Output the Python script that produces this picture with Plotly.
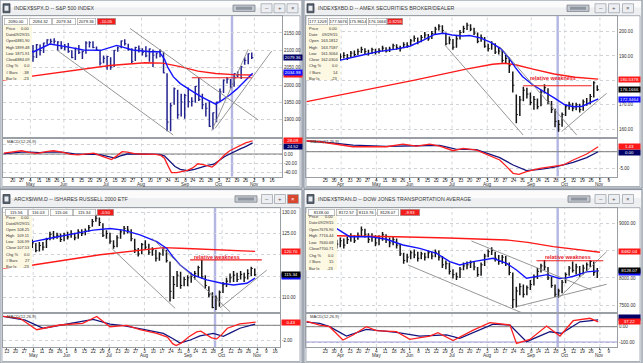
import plotly.graph_objects as go

W, H = 643, 363
FONT = "Liberation Sans, Arial, sans-serif"

# ============================ DATA ============================
# Date ticks, x = trading-day index.  Left windows: 0 = Mon 13 Apr 2015
left_tick_pos = [0,5,10,15,20,25,30,34,39,44,49,54,58,63,68,73,78,83,88,93,98,103,107,112,117,122,127,132,137,142,147,152]
left_tick_day = ["13","20","27","4","11","18","26","1","8","15","22","29","6","13","20","27","3","10","17","24","31","8","14","21","28","5","12","19","26","2","9","16"]
left_tick_mon = ["","","","May","","","","Jun","","","","","Jul","","","","Aug","","","","","Sep","","","","Oct","","","","Nov","",""]
# Right windows: 0 = Mon 23 Mar 2015
right_tick_pos = [0,5,9,14,19,24,29,34,39,44,48,53,58,63,68,72,77,82,87,92,97,102,107,112,117,121,126,131,136,141,146,151,156,161]
right_tick_day = ["23","30","6","13","20","27","4","11","18","26","1","8","15","22","29","6","13","20","27","3","10","17","24","31","8","14","21","28","5","12","19","26","2","9"]
right_tick_mon = ["","","Apr","","","","May","","","","Jun","","","","","Jul","","","","Aug","","","","","Sep","","","","Oct","","","","Nov",""]

# ---- S&P 500 ($SPX) : two-trading-day bars starting at index 0 ----
spx_start = 0
spx_hi = [2107,2111,2103,2109,2120,2126,2114,2120,2115,2118,2117,2122,2132,2133,2135,2126,2126,2118,2121,2100,2107,2115,2098,2126,2126,2126,2111,2100,2085,2084,2080,2101,2111,2128,2132,2119,2106,2110,2114,2106,2112,2105,2102,2093,2103,2096,2034,1949,1993,1986,1975,1975,1993,1965,1997,2021,1975,1949,1953,1921,1952,1990,2016,2022,2017,2033,2039,2055,2080,2091,2094]
spx_lo = [2085,2092,2073,2090,2103,2098,2083,2086,2067,2078,2085,2092,2117,2119,2119,2099,2103,2100,2093,2077,2072,2089,2075,2090,2108,2106,2098,2056,2063,2044,2044,2052,2096,2106,2114,2099,2063,2069,2094,2085,2080,2067,2052,2076,2080,2034,1867,1867,1943,1903,1909,1903,1935,1938,1949,1954,1930,1909,1879,1872,1893,1951,1977,2004,1990,1995,2022,2017,2058,2060,2075]
spx_cl = [2095,2105,2100,2107,2117,2114,2086,2115,2081,2116,2099,2121,2130,2126,2126,2124,2107,2110,2096,2079,2106,2094,2096,2121,2122,2108,2101,2063,2077,2082,2052,2100,2107,2127,2119,2102,2068,2108,2104,2094,2084,2104,2086,2092,2097,2035,1893,1940,1989,1914,1951,1970,1952,1953,1996,1958,1943,1933,1881,1920,1951,1980,2014,2017,1994,2033,2030,2052,2071,2090,2079]
spx_ma_x = [0,10,17,26,36,45,55,64,73,83,88,91,93,96,100,104,108,112,116,120,124,128,132,136,141]
spx_ma = [2092,2100,2096,2118,2110,2101,2100,2114,2101,2096,2096,2075,2050,2024,2004,1990,1978,1966,1955,1945,1957,1971,1988,2008,2034]
spx_ma2_x = [-0.5,20,40,60,80,90,100,110,120,130,141]
spx_ma2 = [2014,2028,2042,2056,2064,2063,2053,2040,2033,2030,2029]
spx_macd_x = [0,5,10,15,19,24,28,33,38,42,47,51,55,58,61,64,67,70,74,78,82,86,89,91,93,95,98,101,104,107,110,113,116,118,120,122,125,128,131,134,137,139,141]
spx_macd = [2,4,7,3,1.5,5,7,4,-1,-2,1,2,-4,-8,-12,-4,5,4,1,0,0,-1,-3,-9,-25,-40,-40,-37,-35,-30,-21,-23,-27,-28,-22,-14,-2,7,13,19,24,26,28.5]
spx_sig_x = [0,5,10,15,20,25,30,35,40,45,50,55,60,63,66,70,75,80,85,88,91,94,97,100,104,108,112,116,119,122,125,128,131,134,137,141]
spx_sig = [1,3,4,4,3,4,4.5,3,0,-1,0,-2,-7,-9,-4,0,0,0,0,-1,-4,-15,-27,-33,-36,-33,-28,-24,-22,-13,-6,0,6,11,16,24]
spx_trend = [[29.9,2101,96,1856],[71.5,2163,144.2,1899],[117.8,1868,138.5,2103],[119.7,1875,151.8,2098]]
spx_resist = [106.5,140.5,2021]
spx_cursor = 129.3
spx_header = ["2090.00","2094.32","2079.34","2079.36","-10.05"]
spx_info = [("Price","0.00"),("Date","09/29/15"),("Open","1881.90"),("High","1899.48"),("Low","1871.91"),("Close","1884.09"),("Chg %","0.0"),("# Bars","-38"),("Bar Ix","-23")]
spx_last = [("p",2030.5,"","#ff1a1a"),("p",2079.36,"2079.36","#000066"),("p",2034.98,"2034.98","#1010ff"),("m",15.5,"24.52","#000066"),("m",28.09,"28.09","#ff1a1a")]
spx_pticks = [1900,1950,2000,2050,2100,2150,2200]
spx_mticks = [20,0,-20,-40]
spx_hidden = [20]

# ---- AMEX Securities Broker/Dealer ($XBD) : two-day bars from index -10 ----
xbd_start = -10
xbd_hi = [188.2,189.0,188.8,189.5,190.2,189.6,190.3,190.6,189.8,191.0,191.5,190.8,192.0,192.2,193.0,193.8,193.2,192.6,193.4,193.0,193.2,194.2,193.6,193.8,195.0,194.8,194.2,195.6,195.6,197.0,198.4,197.6,198.6,199.8,199.0,200.2,202.0,203.0,202.6,199.6,198.0,197.0,198.2,200.6,202.4,203.6,203.0,201.6,199.6,198.8,197.8,195.0,196.0,195.2,193.6,192.4,190.4,189.4,183.6,174.2,173.6,177.4,177.0,175.0,173.6,172.6,176.2,178.4,176.8,171.6,168.4,163.8,166.8,170.2,171.2,170.8,170.8,170.4,172.2,172.8,174.4,179.6,178.0]
xbd_lo = [185.8,186.5,186.4,187.2,187.9,187.2,187.8,188.0,187.5,188.2,189.0,188.4,189.2,189.8,190.4,191.2,190.8,190.2,190.8,190.6,191.0,191.8,191.4,191.6,192.6,192.6,191.8,193.2,193.4,194.2,195.8,194.8,195.6,197.2,196.2,197.0,199.0,200.4,199.4,194.4,194.8,192.6,193.4,196.8,199.4,200.6,200.2,198.6,195.2,195.8,193.4,191.8,192.6,190.8,190.6,187.2,186.8,183.0,175.0,162.4,165.4,171.4,172.6,169.8,168.0,168.2,169.4,174.6,170.2,166.6,160.8,159.0,161.0,165.4,168.0,167.4,167.8,166.8,167.6,169.6,170.2,173.0,175.6]
xbd_cl = [187.0,188.0,187.5,188.6,189.0,188.0,189.5,189.0,188.3,189.6,190.2,189.2,191.2,190.6,191.8,192.6,191.8,191.0,192.6,191.6,192.2,193.2,192.0,192.8,194.2,193.4,193.0,194.6,194.2,196.2,197.2,195.6,197.6,198.6,197.0,199.2,201.0,202.2,200.4,195.0,196.6,193.6,197.0,199.6,201.2,202.6,201.0,199.4,196.0,197.6,194.0,193.0,195.0,191.6,192.0,188.2,189.0,186.0,178.0,166.0,172.0,176.0,174.4,171.0,172.2,169.2,175.2,177.0,171.2,168.0,163.2,162.0,166.0,169.2,170.2,168.6,170.0,168.0,171.2,170.6,173.4,179.0,176.2]
xbd_ma_x = [-10.6,8,20,30,40,48,56,62,67,72,78,82,88,94,100,104,108,112,118,124,130,136,141,146,150,155]
xbd_ma = [187,188.2,190.2,191.8,192.8,194,196.6,198.8,199.3,198.6,198.2,198.4,197.4,195.6,192.8,189.5,185.2,181.6,178.1,175.6,172.8,170,169.2,169.4,170.6,172.4]
xbd_ma2_x = [-10.6,20,50,80,95,102,108,118,130,142,155]
xbd_ma2 = [171.3,175.6,180,184.6,186.6,187,186.4,184.6,182.6,181.3,180.5]
xbd_macd_x = [-10.6,-3.2,15.7,34.7,44.1,51.8,59.3,65,72.6,78.3,85.9,91.6,99.1,103,106.7,110,114.3,121.9,129.5,135.2,140.8,148.5,155]
xbd_macd = [3.3,3.0,1.5,1.5,2.3,1.7,2.3,1.7,0.3,1.0,0.5,-0.7,-2.5,-4.5,-6.5,-6.8,-6,-5,-4.3,-4,-2.5,-0.7,1.5]
xbd_sig_x = [-10.6,-3.2,15.7,34.7,51.8,65,74,85.9,91.6,99.1,106.7,114.3,121.9,129.5,135.2,140.8,148.5,155]
xbd_sig = [3.2,3.0,2.0,1.6,1.8,1.9,0.8,0.6,-0.4,-1.8,-4.0,-5.7,-5.3,-4.7,-4.0,-3.2,-1.8,0.0]
xbd_trend = [[67.9,194.5,112.4,157.6],[99.1,193.8,142.8,157.6],[134.2,159,159.8,174.7]]
xbd_resist = [112.4,151.2,177.8]
xbd_cursor = 132
xbd_header = ["177.1209","177.5676","175.9614","176.1666","-0.8255"]
xbd_info = [("Price","0.00"),("Date","09/29/15"),("Open","163.1812"),("High","163.7587"),("Low","161.3064"),("Close","162.0304"),("Chg %","0.0"),("# Bars","14"),("Bar Ix","-23")]
xbd_last = [("p",180.54,"180.5378","#ff1a1a"),("p",176.17,"176.1666","#000000"),("p",172.35,"172.3464","#1010ff"),("m",-0.3,"0.00","#000066"),("m",1.45,"1.43","#ff1a1a")]
xbd_pticks = [160,170,180,190,200]
xbd_mticks = [0,-5]
xbd_hidden = [180,0]

# ---- iShares Russell 2000 ETF (IWM) : two-day bars from index -2 ----
iwm_start = -2
iwm_hi = [125.4,125.8,125.8,125.2,125.6,126.0,125.8,124.4,123.6,122.8,123.0,123.0,124.0,125.4,125.6,125.2,125.0,125.2,125.4,125.8,125.2,126.0,126.0,126.2,127.0,128.4,129.4,128.8,127.4,125.8,125.2,123.4,124.6,126.0,126.8,126.8,126.0,123.8,121.6,122.8,123.4,122.6,121.8,121.2,120.6,121.8,121.2,118.4,115.0,116.2,116.0,114.8,115.2,115.8,116.2,117.4,118.8,115.2,112.6,111.2,110.4,111.6,113.6,114.6,115.6,116.2,115.8,116.2,115.8,116.6,117.2,116.8]
iwm_lo = [123.6,124.2,124.0,123.2,123.6,124.4,123.6,121.8,121.6,120.6,120.8,121.0,121.6,123.4,123.6,123.8,123.0,123.2,123.6,124.0,123.4,123.8,124.4,124.6,125.4,126.6,127.8,126.8,124.2,123.8,122.6,121.4,121.8,123.8,124.8,125.0,123.2,120.4,119.6,120.2,121.2,120.0,119.8,118.4,118.6,119.8,118.2,109.0,109.6,112.4,112.0,112.6,112.6,113.4,114.2,114.8,114.4,112.0,110.0,107.4,107.0,107.8,111.0,112.4,113.4,113.6,113.6,114.2,113.6,114.2,115.0,115.0]
iwm_cl = [124.6,125.2,124.8,123.8,124.8,125.4,124.2,122.2,122.8,121.0,122.2,121.8,123.6,124.8,124.2,124.6,123.6,124.6,124.2,125.0,124.0,125.4,125.0,125.6,126.4,127.8,128.6,127.6,124.6,125.0,123.2,122.0,124.0,125.4,126.2,125.8,123.8,121.2,120.2,122.4,121.8,120.6,121.2,119.2,120.2,121.4,118.6,111.4,113.0,115.2,112.8,114.2,114.6,115.0,115.6,117.0,114.8,112.8,110.6,107.6,109.8,111.2,113.0,113.8,114.6,115.2,114.2,115.4,114.6,115.6,116.8,115.3]
iwm_ma_x = [-2,8,15,24.5,34,49,58.5,66,75.5,85,90.7,94,98.2,105.7,113.3,121.8,128.4,136,140.7]
iwm_ma = [123.8,123.4,123.1,123.9,124.7,125.8,126.2,125.8,124.7,123.1,121.5,119.6,117.6,115.2,114.1,113.3,112.9,113.3,114.5]
iwm_ma2_x = [-2,15,52.9,75.5,88.7,102,124.6,140.7]
iwm_ma2 = [116.9,117.6,120,121.1,121.7,121.5,121.1,120.8]
iwm_macd_x = [-2,7.5,17,30,43,51,58.5,68,75.5,85,91,94,96,99,103,107.6,110,113,116,119,122,125,128,132,136,141]
iwm_macd = [1.2,0.95,-0.6,0.04,0.27,1.2,-0.2,0,-0.6,-1.1,-1.6,-2.5,-2.75,-2.4,-1.6,-0.9,-0.8,-1.3,-1.7,-1.85,-1.2,-0.4,-0.1,0.2,0.3,0.43]
iwm_sig_x = [-2,10.5,20.7,34,49,58.5,66,77.4,88.7,94,98.2,104,109.5,117,122.7,127,132.1,140.7]
iwm_sig = [1.2,0.7,-0.4,0.17,0.8,0.17,-0.05,-0.55,-1.1,-1.8,-2.4,-2.0,-1.45,-1.1,-1.5,-1.0,-0.4,0.17]
iwm_trend = [[59.5,121.5,95.4,107.4],[82.2,123.9,126.5,106.6],[120.8,107.5,147.3,116.4]]
iwm_resist = [103.9,144.5,118.8]
iwm_cursor = 118
iwm_header = ["115.56","116.03","115.06","115.34","-0.50"]
iwm_info = [("Price","0.00"),("Date","09/29/15"),("Open","108.25"),("High","109.11"),("Low","106.99"),("Close","107.53"),("Chg %","0.0"),("# Bars","27"),("Bar Ix","-23")]
iwm_last = [("p",120.70,"120.70","#ff1a1a"),("p",114.9,"","#1010ff"),("p",115.34,"115.34","#000000"),("m",0.43,"0.43","#ff1a1a")]
iwm_pticks = [110,115,120,125,130]
iwm_mticks = [0,-2]
iwm_hidden = [115,120,0]

# ---- Dow Jones Transportation Average ($TRAN) : two-day bars from index -10 ----
tran_start = -10
tran_hi = [8920,8880,8940,8900,8860,8790,8800,8760,8700,8740,8720,8760,8820,8780,8830,8940,8900,8820,8820,8780,8780,8840,8800,8740,8760,8720,8620,8460,8440,8500,8520,8480,8480,8460,8500,8480,8520,8500,8400,8320,8280,8160,8100,8200,8280,8300,8320,8300,8200,8280,8440,8520,8560,8480,8420,8420,8400,8280,8100,7840,7900,7880,7860,7960,8060,8180,8260,8330,8200,8020,7880,7800,7960,8100,8220,8300,8260,8220,8240,8280,8330,8300,8180]
tran_lo = [8780,8740,8800,8760,8700,8650,8660,8620,8540,8560,8540,8620,8660,8640,8700,8760,8740,8640,8660,8580,8600,8680,8640,8560,8600,8540,8400,8260,8280,8340,8360,8300,8340,8320,8360,8340,8380,8320,8180,8160,8060,7990,7960,8000,8140,8160,8180,8140,8020,8040,8220,8380,8420,8300,8240,8260,8220,8050,7450,7460,7680,7640,7680,7780,7860,7980,8100,8140,7960,7820,7650,7640,7720,7900,8040,8100,8060,8020,8060,8120,8200,8040,8000]
tran_cl = [8850,8800,8880,8820,8760,8700,8740,8660,8620,8680,8600,8700,8760,8680,8780,8880,8800,8700,8760,8640,8720,8790,8700,8640,8700,8600,8440,8320,8380,8460,8420,8360,8440,8380,8460,8400,8470,8380,8240,8260,8120,8060,8020,8160,8220,8240,8280,8200,8060,8240,8400,8480,8500,8360,8300,8380,8260,8100,7600,7760,7840,7700,7820,7880,8020,8120,8220,8200,8000,7860,7700,7760,7920,8060,8180,8140,8200,8080,8180,8240,8300,8100,8128]
tran_ma_x = [-10.6,6.3,13.8,25.2,34.7,44.1,53.6,63.1,70.7,76.4,84,95.3,103,108.6,114.3,121.9,126,130,133,137,141,148.5,155]
tran_ma = [8950,8908,8755,8755,8707,8603,8542,8451,8297,8236,8297,8359,8267,8145,7993,8040,8060,8020,7990,8000,8030,8110,8128]
tran_ma2_x = [-10.6,20,40.4,70,103,115,129.5,156]
tran_ma2 = [8780,8770,8755,8730,8694,8650,8572,8470]
tran_macd_x = [-10.6,-3.2,2.4,10,15.7,23.3,29,40.4,48,59.3,64,72.6,84,93.5,104.9,108.6,116.2,125.7,133.3,140.8,150.3,155]
tran_macd = [35,11,0,-87,-54,0,-26,-32,-83,-61,-39,-91,-22,26,11,-109,-83,4,-61,39,55,32]
tran_sig_x = [-10.6,-3.2,2.4,12,23.3,40.4,53.6,68.8,76.4,87.8,95.3,104.9,114.3,127.6,134.2,144.7,155]
tran_sig = [30,22,0,-61,-17,-37,-61,-54,-76,-22,17,11,-98,-33,-43,32,45]
tran_trend = [[47,8236,111.5,7363],[83,8676,151.3,7778],[108.6,7473,159.8,7883],[133.3,7656,159.8,8480]]
tran_resist = [120,157.9,8315]
tran_cursor = 132
tran_header = ["8138.00","8172.57","8113.76","8128.07","-9.93"]
tran_info = [("Price","0.00"),("Date","09/29/15"),("Open","7676.90"),("High","7716.44"),("Low","7640.68"),("Close","7700.71"),("Chg %","0.0"),("# Bars","15"),("Bar Ix","-23")]
tran_last = [("p",8482.04,"8482.04","#ff1a1a"),("p",8100,"","#1010ff"),("p",8128.07,"8128.07","#000000"),("m",60,"","#000066"),("m",37.22,"37.22","#ff1a1a")]
tran_pticks = [7500,8000,8500,9000]
tran_mticks = [0,-100]
tran_hidden = [8500]
tran_macd_floor = -100

# ============================ FIGURE ============================
fig = go.Figure()
shapes, annos, axes = [], [], {}


def PX(x):
    return x / W


def PY(y):
    return 1 - y / H


def rect(x0, y0, x1, y1, fill, line=None, lw=1, layer="below"):
    shapes.append(dict(type="rect", xref="paper", yref="paper",
                       x0=PX(x0), x1=PX(x1), y0=PY(y1), y1=PY(y0),
                       fillcolor=fill, layer=layer,
                       line=dict(color=line if line else fill, width=lw if line else 0)))


def txt(x, y, s, size=4.6, color="#2b2b2b", anchor="left", bold=False, **kw):
    if bold:
        s = "<b>" + s + "</b>"
    a = dict(xref="paper", yref="paper", x=PX(x), y=PY(y), text=s, showarrow=False,
             xanchor=anchor, yanchor="middle",
             font=dict(size=size, color=color, family=FONT))
    a.update(kw)
    annos.append(a)


def window(wx0, wy0, wx1, wy1, tb1, cy0, cx0, cx1, title, tool_x, btn_x, close_red):
    rect(wx0, wy0, wx1, wy1, "#e6e9ee", "#8e959f")
    rect(wx0 + 1, wy0 + 1, wx1 - 1, (wy0 + tb1) / 2, "#fbfbfb")
    rect(wx0 + 1, (wy0 + tb1) / 2, wx1 - 1, tb1, "#eeeff1")
    rect(cx0, cy0, cx1, wy1 - 1.5, "#ffffff", "#aab0b8", 1)
    ty = (wy0 + tb1) / 2 + 0.5
    rect(wx0 + 3, ty - 4.5, wx0 + 10, ty + 4.5, "#56606c", "#3b434d", 0.8)
    rect(wx0 + 4.5, ty - 2.5, wx0 + 8.5, ty + 2.5, "#e8ecf0")
    txt(wx0 + 12, ty, title, size=5.3, color="#3c3c3c")
    rect(tool_x, ty - 3.2, tool_x + 22, ty + 3.2, "#c3c8cf", "#7d848d", 0.8)
    rect(tool_x + 3, ty - 1.5, tool_x + 19, ty + 1.5, "#8e959e")
    syms = ["\u2013", "+", "\u00d7"]
    for i, bx in enumerate(btn_x):
        fill = "#d9472f" if (close_red and i == 2) else "#eceef1"
        rect(bx, ty - 4.5, bx + 11, ty + 4.5, fill, "#a1a7af", 0.8)
        txt(bx + 5.5, ty, syms[i], size=6, color="#ffffff" if (close_red and i == 2) else "#555",
            anchor="center")


def ref(i):
    return "" if i == 1 else str(i)


def fmt_ticks(vals, hidden):
    return ["" if v in hidden else "{:.2f}".format(v) for v in vals]


def panel(n, g, start, hi, lo, cl, bar_color, ma_x, ma, ma2_x, ma2,
          macd_x, macd, sig_x, sig, trend, resist, cursor, header, info, last,
          pticks, mticks, hidden, tpos, tday, tmon, rw_label, floor=None):
    ip, im = 2 * n + 1, 2 * n + 2
    xp, yp, xm, ym = "x" + ref(ip), "y" + ref(ip), "x" + ref(im), "y" + ref(im)
    x0, x1, yt, ymid, yb = g["x0"], g["x1"], g["yt"], g["ym"], g["yb"]
    lc = "#9a9fa6"
    axfont = dict(size=4.6, color="#303030", family=FONT)
    common = dict(showline=True, mirror=True, linecolor=lc, linewidth=1, zeroline=False, fixedrange=True)
    axes["xaxis" + ref(ip)] = dict(domain=[PX(x0), PX(x1)], range=g["xr"], anchor=yp,
                                   showticklabels=False, showgrid=False, ticks="", **common)
    axes["yaxis" + ref(ip)] = dict(domain=[PY(ymid), PY(yt)], range=g["pr"], anchor=xp, side="right",
                                   tickvals=pticks, ticktext=fmt_ticks(pticks, hidden),
                                   tickfont=axfont, showgrid=True, gridcolor="#cfd2d6", griddash="dot",
                                   ticks="", **common)
    axes["xaxis" + ref(im)] = dict(domain=[PX(x0), PX(x1)], range=g["xr"], anchor=ym,
                                   tickvals=tpos, tickangle=0, ticktext=list(tday),
                                   tickfont=axfont, ticks="outside", ticklen=2, tickcolor="#777",
                                   ticklabelstandoff=-3, showgrid=False, **common)
    axes["yaxis" + ref(im)] = dict(domain=[PY(yb), PY(ymid)], range=g["mr"], anchor=xm, side="right",
                                   tickvals=mticks, ticktext=fmt_ticks(mticks, hidden),
                                   tickfont=axfont, showgrid=True, gridcolor="#cfd2d6", griddash="dot",
                                   ticks="", **common)
    for p, m in zip(tpos, tmon):
        if m:
            shapes.append(dict(type="line", xref=xp, yref="paper", x0=p, x1=p, y0=PY(yb), y1=PY(yt),
                               line=dict(color="#d3d6da", width=1, dash="dot"), layer="below"))
            annos.append(dict(xref=xm, yref="paper", x=p, y=PY(yb + 8.3), text=m, showarrow=False,
                              xanchor="center", yanchor="middle",
                              font=dict(size=4.6, color="#303030", family=FONT)))
    shapes.append(dict(type="line", xref=xp, yref="paper", x0=cursor, x1=cursor, y0=PY(yb), y1=PY(yt),
                       line=dict(color="#b3b5e2", width=2.4), layer="below"))
    bx, by, tx, ty = [], [], [], []
    for k, (h, l, c) in enumerate(zip(hi, lo, cl)):
        xc = start + 2 * k + 0.5
        bx += [xc, xc, None]
        by += [l, h, None]
        tx += [xc, xc + 0.9, None]
        ty += [c, c, None]
    fig.add_trace(go.Scatter(x=bx, y=by, mode="lines", line=dict(color=bar_color, width=1.5),
                             xaxis=xp, yaxis=yp, hoverinfo="skip"))
    fig.add_trace(go.Scatter(x=tx, y=ty, mode="lines", line=dict(color=bar_color, width=1),
                             xaxis=xp, yaxis=yp, hoverinfo="skip"))
    fig.add_trace(go.Scatter(x=ma2_x, y=ma2, mode="lines", line=dict(color="#ff1a1a", width=1.4),
                             xaxis=xp, yaxis=yp, hoverinfo="skip"))
    fig.add_trace(go.Scatter(x=ma_x, y=ma, mode="lines", line=dict(color="#1414ff", width=1.4),
                             xaxis=xp, yaxis=yp, hoverinfo="skip"))
    lx, ly = [], []
    for a, b, c, d in trend:
        lx += [a, c, None]
        ly += [b, d, None]
    fig.add_trace(go.Scatter(x=lx, y=ly, mode="lines", line=dict(color="#8a8a8a", width=0.9),
                             xaxis=xp, yaxis=yp, hoverinfo="skip"))
    fig.add_trace(go.Scatter(x=[resist[0], resist[1]], y=[resist[2], resist[2]], mode="lines",
                             line=dict(color="#f01c1c", width=1.1), xaxis=xp, yaxis=yp, hoverinfo="skip"))
    if rw_label:
        annos.append(dict(xref=xp, yref=yp, x=rw_label[0], y=rw_label[1], text="<b>relative weakness</b>",
                          showarrow=False, xanchor="center", yanchor="middle",
                          font=dict(size=5.4, color="#e8202a", family=FONT)))
    xr = g["xr"]
    fig.add_trace(go.Scatter(x=[xr[0], xr[1]], y=[0, 0], mode="lines", line=dict(color="#7d7d7d", width=1),
                             xaxis=xm, yaxis=ym, hoverinfo="skip"))
    if floor is not None:
        fig.add_trace(go.Scatter(x=[xr[0], xr[1]], y=[floor, floor], mode="lines",
                                 line=dict(color="#9a9ad8", width=1.2), xaxis=xm, yaxis=ym, hoverinfo="skip"))
    fig.add_trace(go.Scatter(x=sig_x, y=sig, mode="lines", line=dict(color="#14147e", width=1.3),
                             xaxis=xm, yaxis=ym, hoverinfo="skip"))
    fig.add_trace(go.Scatter(x=macd_x, y=macd, mode="lines", line=dict(color="#ff2020", width=1.3),
                             xaxis=xm, yaxis=ym, hoverinfo="skip"))
    txt(x0 + 2, ymid + 3.5, "MACD(12,26,9)", size=4.2, color="#333")
    bw = g["bw"]
    for which, val, s, bg in last:
        annos.append(dict(xref="paper", yref=(yp if which == "p" else ym), x=PX(x1 + 0.5), y=val,
                          text=s, showarrow=False, xanchor="left", yanchor="middle",
                          width=bw, height=5.2, bgcolor=bg, borderpad=0,
                          font=dict(size=4.4, color="#ffffff", family=FONT)))
    hy = g["hy"]
    for (a, b), s in zip(g["hbox"], header):
        red = s.startswith("-")
        annos.append(dict(xref="paper", yref="paper", x=PX(a), y=PY(hy), text=s, showarrow=False,
                          xanchor="left", yanchor="middle", width=b - a, height=5.6,
                          bgcolor="#f21c1c" if red else "#ffffff",
                          bordercolor="#9a9a9a", borderwidth=0.6, borderpad=0,
                          font=dict(size=4.2, color="#ffffff" if red else "#222", family=FONT)))
    ix0, iy0, ix1, iy1 = g["ibox"]
    rect(ix0, iy0, ix1, iy1, "#fdf8e2", None, 0, layer="above")
    for j, (lab, val) in enumerate(info):
        yy = iy0 + 3.3 + j * (iy1 - iy0 - 5) / 8.0
        txt(ix0 + 1.2, yy, lab, size=4.0, color="#333")
        txt(ix1 - 0.5, yy, val, size=4.0, color="#333", anchor="right")


# ---------- window chrome ----------
rect(0, 0, W, H, "#d3d7dd")
rect(301.5, 0, 305, H, "#b6bcc4")
rect(0, 187.5, W, 190, "#c4c9d0")
window(0, 0, 302, 188, 15.5, 15.7, 2, 300, "INDEX$SPX.D -- S&amp;P 500 INDEX",
       233, [261, 274, 287], False)
window(304, 0, 642, 188, 15.5, 15.7, 306, 640, "INDEX$XBD.D -- AMEX SECURITIES BROKER/DEALER",
       567, [595, 608.5, 622.5], False)
window(0, 189.5, 302, 363, 207.5, 207.7, 2, 300, "ARCX$IWM.D -- ISHARES RUSSELL 2000 ETF",
       235, [261.5, 274.5, 287.5], True)
window(304, 189.5, 642, 363, 207.5, 207.7, 306, 640, "INDEX$TRAN.D -- DOW JONES TRANSPORTATION AVERAGE",
       568, [595, 608.5, 622.5], False)

g_tl = dict(x0=3, x1=282, yt=15.7, ym=137.5, yb=176.5, xr=[-0.51, 157.65], pr=[1848.7, 2199.7],
            mr=[-48.4, 35.5], bw=18, hy=21.2,
            hbox=[(4, 27), (29, 51), (52, 75), (77, 95), (97, 115)], ibox=(3, 25, 32, 80))
g_tr = dict(x0=306, x1=617, yt=15.7, ym=137.5, yb=176.5, xr=[-10.98, 165.7], pr=[156.6, 206.5],
            mr=[-7.47, 4.28], bw=21, hy=21.2,
            hbox=[(308, 327), (329, 347), (349, 366), (368, 386), (387, 402)], ibox=(306, 25, 340, 80))
g_bl = dict(x0=3, x1=280, yt=207.7, ym=313.3, yb=347, xr=[-2.1, 154.8], pr=[106.24, 131.08],
            mr=[-2.95, 1.63], bw=18, hy=212.5,
            hbox=[(5, 27), (28, 48), (50, 72), (73, 95), (97, 113)], ibox=(3, 214, 32, 268))
g_br = dict(x0=306, x1=617, yt=207.7, ym=313.3, yb=347, xr=[-10.98, 165.7], pr=[7351.6, 9285.7],
            mr=[-132.7, 87.6], bw=21, hy=212.5,
            hbox=[(308, 334), (336, 356), (357, 375), (377, 398), (400, 419)], ibox=(306, 213, 337, 270))

panel(0, g_tl, spx_start, spx_hi, spx_lo, spx_cl, "#23238e", spx_ma_x, spx_ma, spx_ma2_x, spx_ma2,
      spx_macd_x, spx_macd, spx_sig_x, spx_sig, spx_trend, spx_resist, spx_cursor, spx_header, spx_info,
      spx_last, spx_pticks, spx_mticks, spx_hidden,
      left_tick_pos[1:], left_tick_day[1:], left_tick_mon[1:], None)
panel(1, g_tr, xbd_start, xbd_hi, xbd_lo, xbd_cl, "#151515", xbd_ma_x, xbd_ma, xbd_ma2_x, xbd_ma2,
      xbd_macd_x, xbd_macd, xbd_sig_x, xbd_sig, xbd_trend, xbd_resist, xbd_cursor, xbd_header, xbd_info,
      xbd_last, xbd_pticks, xbd_mticks, xbd_hidden,
      right_tick_pos, right_tick_day, right_tick_mon, (129.3, 181.0))
panel(2, g_bl, iwm_start, iwm_hi, iwm_lo, iwm_cl, "#151515", iwm_ma_x, iwm_ma, iwm_ma2_x, iwm_ma2,
      iwm_macd_x, iwm_macd, iwm_sig_x, iwm_sig, iwm_trend, iwm_resist, iwm_cursor, iwm_header, iwm_info,
      iwm_last, iwm_pticks, iwm_mticks, iwm_hidden,
      left_tick_pos, left_tick_day, left_tick_mon, (119, 119.55))
panel(3, g_br, tran_start, tran_hi, tran_lo, tran_cl, "#151515", tran_ma_x, tran_ma, tran_ma2_x, tran_ma2,
      tran_macd_x, tran_macd, tran_sig_x, tran_sig, tran_trend, tran_resist, tran_cursor, tran_header, tran_info,
      tran_last, tran_pticks, tran_mticks, tran_hidden,
      right_tick_pos, right_tick_day, right_tick_mon, (138, 8377), floor=tran_macd_floor)

fig.update_layout(width=W, height=H, margin=dict(l=0, r=0, t=0, b=0),
                  paper_bgcolor="#d3d7dd", plot_bgcolor="rgba(0,0,0,0)", showlegend=False,
                  shapes=shapes, annotations=annos, font=dict(family=FONT), **axes)
fig.write_html("out.html", config={"displayModeBar": False},
               post_script="document.body.style.margin='0';document.body.style.overflow='hidden';")
